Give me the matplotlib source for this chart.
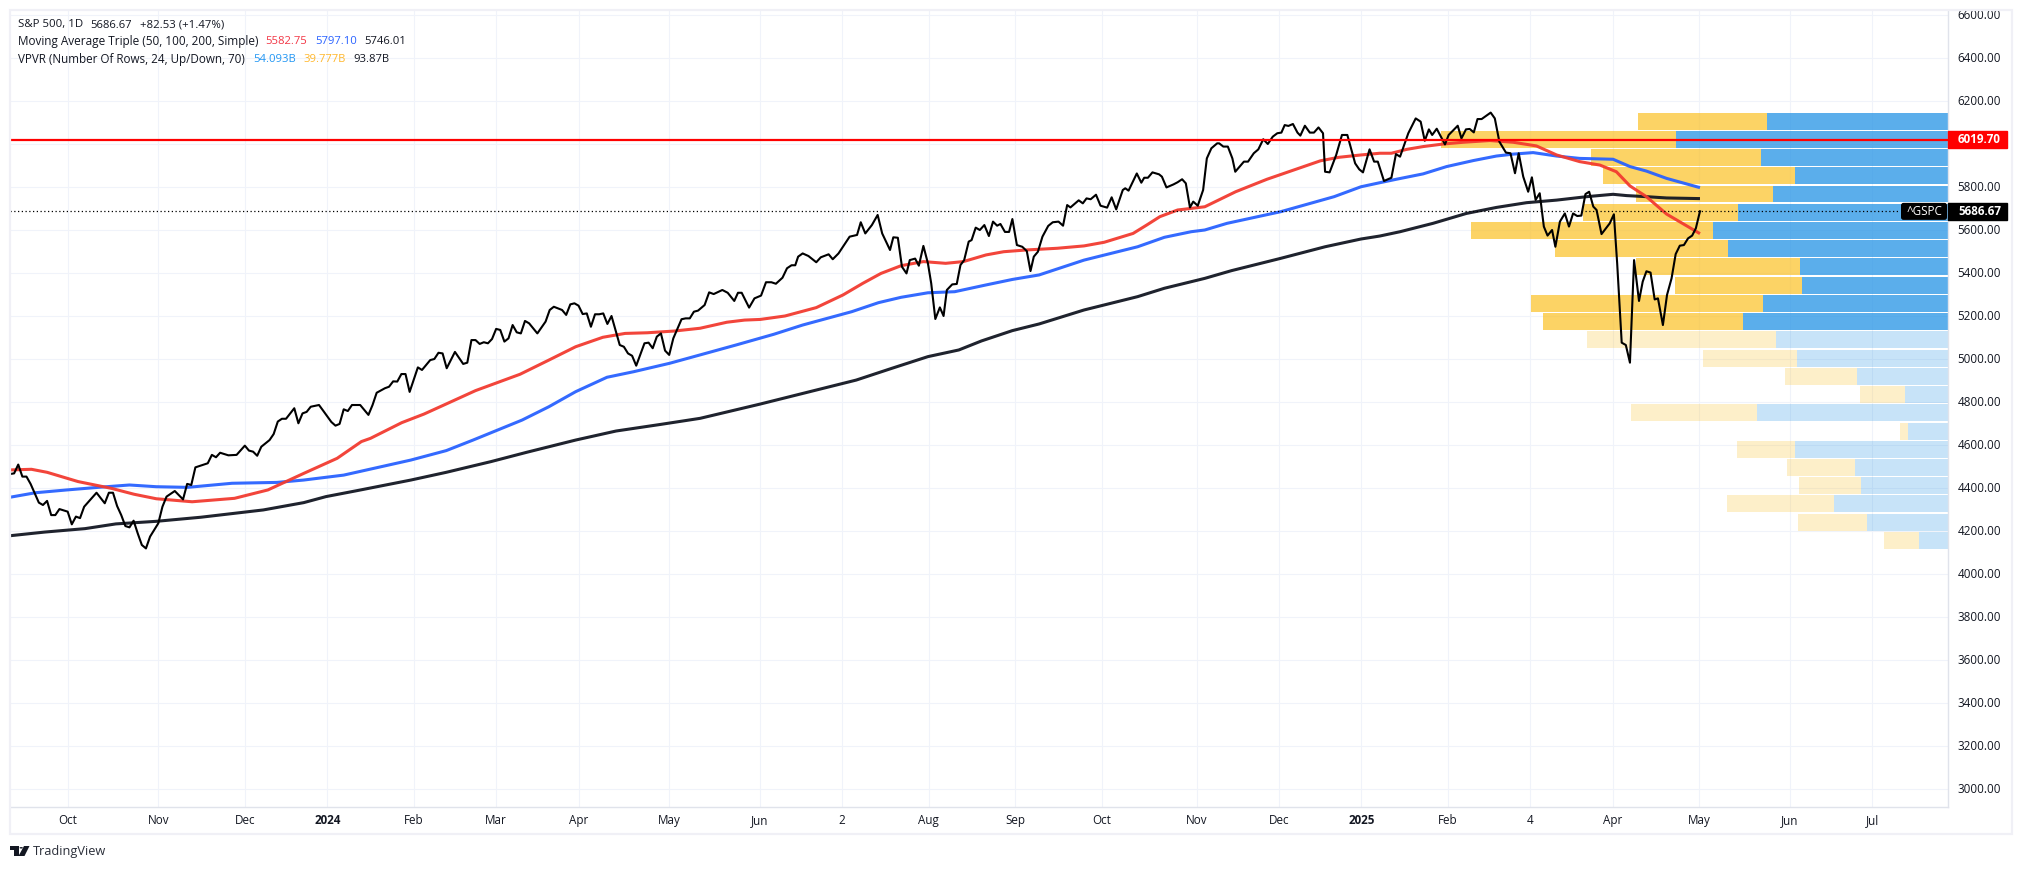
import matplotlib
matplotlib.use("Agg")
import matplotlib.pyplot as plt
from matplotlib.patches import Circle, FancyBboxPatch, Polygon, Rectangle
from matplotlib.transforms import IdentityTransform, ScaledTranslation

W, H = 2022, 869
plt.rcParams["font.family"] = ["Open Sans", "DejaVu Sans"]

# x is the bar number counted from the left edge of the chart
price_bars = [
    0, 1, 2, 3, 4, 5, 7, 8, 9, 10, 11, 12, 14, 15, 16, 17, 18, 21, 23, 24,
    25, 26, 27, 28, 29, 30, 31, 32, 33, 34, 36, 37, 38, 40, 42, 43, 44, 45, 48, 49,
    50, 51, 53, 55, 57, 58, 59, 60, 61, 63, 64, 65, 66, 67, 69, 70, 71, 72, 73, 75,
    76, 78, 79, 80, 81, 82, 83, 85, 87, 88, 89, 91, 92, 93, 94, 95, 96, 97, 99, 100,
    102, 103, 104, 105, 106, 108, 110, 111, 112, 113, 114, 115, 116, 117, 118, 119, 120, 121, 122, 123,
    124, 125, 126, 128, 130, 131, 132, 134, 135, 136, 137, 138, 139, 140, 141, 142, 143, 144, 145, 146,
    148, 149, 150, 151, 152, 154, 155, 156, 157, 158, 159, 160, 161, 163, 164, 165, 166, 167,
    168.6, 169.7, 170.8, 172.9, 174.2, 175.8, 176.7, 177.6, 179.4, 180.7, 182.3, 183.5, 184.8, 185.9, 187.5, 188.6, 189.7, 190.6, 191.3, 192.4,
    193.8, 195.7, 196.8, 198.7, 199.7, 201.1, 203.8, 205.6, 206.5, 207.6, 209.2, 210.6, 211.7, 213.6, 214.4, 215.5, 216.5, 217.6, 218.4, 219.7,
    220.6, 221.7, 222.8, 223.6, 224.6, 225.7, 226.6, 227.4, 228.7, 229.8, 230.7, 231.6, 232.7, 233.4, 234.4, 235.4, 236.5, 237.6, 238.6, 239.6,
    240.4, 241.5, 242.5, 243.3, 244.4, 245.7, 246.8, 247.7, 248.5, 249.5, 250.6, 252, 253.1, 254.5, 255.6, 256.6, 257.4, 259.4, 260.4, 261.3,
    262.3, 263.6, 264.7, 266.3, 267.4, 268.5, 270.1, 270.7, 271.5, 273.5, 274.6, 275.3, 276.2, 277.3, 278.9, 279.6, 280.7, 282.4, 283.4, 284.5,
    285.4, 286.4, 287.2, 288.3, 289.6, 290.5, 291.6, 293, 293.5, 294.5, 295.6, 296.7, 297.4, 299.5, 300.5, 301.9, 303, 304.2, 305.3, 306.5,
    307.6, 308.6, 309.4, 310.3, 311.4, 312.5, 313.2, 314.3, 315.5, 316.5, 317.6, 318.7, 319.2, 320.3, 321.9, 323.3, 324.6, 326.5, 327.5, 328.4,
    330, 331.1, 332, 333.5, 335.3, 336.4, 337.4, 339.4, 341.2, 342.4, 343.4, 344.4, 345.2, 346.3, 348.3, 349.2, 351.4, 352.3, 353.4, 354.3,
    355.3, 356.2, 357.2, 359.4, 360.4, 361.5, 363.1, 364.2, 365.3, 366.2, 367.3, 368.5, 369.4, 370.3, 371.3, 372.3, 373.2, 374.3, 375.1, 376.2,
    377.4, 378.4, 379.4, 380.4, 381.4, 382.4, 383.3, 384.3, 385.1, 386.3, 388.3, 389.3, 390.1, 391.2, 392.2, 393.2, 394.2, 395.4, 396.3, 397.2,
    398.2, 399.2, 400, 401.2, 402.2, 403.3, 404.3, 405.3, 406.3, 407.3, 408.3, 409.2, 410.2,
]
price_vals = [
    4465, 4468, 4509, 4453, 4453, 4419, 4332, 4321, 4340, 4274, 4274, 4302, 4290, 4231, 4267, 4260, 4313, 4378, 4329, 4378,
    4378, 4316, 4274, 4223, 4217, 4248, 4189, 4135, 4119, 4174, 4236, 4313, 4360, 4386, 4347, 4419, 4414, 4496, 4515, 4554,
    4543, 4564, 4552, 4554, 4597, 4574, 4569, 4550, 4592, 4623, 4651, 4709, 4722, 4722, 4771, 4701, 4747, 4754, 4778, 4786,
    4760, 4707, 4690, 4698, 4766, 4758, 4786, 4786, 4740, 4786, 4843, 4864, 4871, 4896, 4895, 4930, 4930, 4847, 4961, 4949,
    4995, 5000, 5029, 5026, 4957, 5033, 4977, 4983, 5088, 5088, 5070, 5078, 5073, 5093, 5140, 5135, 5081, 5096, 5158, 5124,
    5119, 5177, 5166, 5119, 5174, 5228, 5243, 5228, 5205, 5254, 5259, 5248, 5209, 5212, 5150, 5208, 5208, 5212, 5163, 5200,
    5065, 5057, 5026, 5015, 4969, 5073, 5076, 5050, 5104, 5119, 5039, 5019, 5096, 5185, 5189, 5189, 5220, 5225,
    5251, 5310, 5302, 5321, 5308, 5270, 5308, 5308, 5239, 5282, 5295, 5357, 5357, 5350, 5378, 5422, 5436, 5436, 5476, 5491,
    5479, 5450, 5473, 5487, 5464, 5491, 5569, 5577, 5636, 5584, 5623, 5670, 5584, 5507, 5566, 5564, 5429, 5398, 5460, 5467,
    5434, 5526, 5445, 5352, 5186, 5240, 5200, 5321, 5347, 5349, 5437, 5460, 5546, 5553, 5611, 5600, 5623, 5572, 5639, 5620,
    5628, 5591, 5591, 5651, 5530, 5522, 5502, 5409, 5476, 5499, 5569, 5619, 5636, 5639, 5620, 5716, 5705, 5738, 5724, 5747,
    5743, 5764, 5713, 5704, 5752, 5696, 5786, 5794, 5783, 5863, 5820, 5843, 5843, 5868, 5859, 5848, 5798, 5812, 5822, 5836,
    5817, 5705, 5732, 5713, 5786, 5933, 5980, 6003, 6003, 5988, 5988, 5933, 5871, 5918, 5918, 5957, 5975, 6022, 6000, 6034,
    6050, 6053, 6088, 6084, 6093, 6053, 6039, 6085, 6053, 6053, 6077, 6050, 5871, 5868, 5949, 6042, 6042, 5910, 5882, 5868,
    5975, 5918, 5918, 5828, 5843, 5953, 5941, 6050, 6119, 6104, 6015, 6068, 6042, 6071, 5998, 6042, 6085, 6026, 6068, 6070,
    6054, 6116, 6116, 6146, 6119, 6011, 5960, 5957, 5864, 5957, 5848, 5778, 5845, 5740, 5771, 5616, 5574, 5600, 5522, 5639,
    5677, 5616, 5677, 5665, 5667, 5767, 5778, 5709, 5693, 5581, 5631, 5673, 5445, 5076, 5065, 4983, 5460, 5270, 5360, 5408,
    5402, 5277, 5282, 5158, 5298, 5375, 5488, 5527, 5530, 5561, 5574, 5608, 5687,
]

ma50_bars = [
    0, 5.2, 9, 16.5, 24.7, 30.1, 35.5, 44.2, 54.5, 62.6, 71.3, 79.4, 85.3, 87.5, 95.1, 100.5, 105.9, 113, 123.8, 130.8,
    137.3, 143.9, 149.3, 154.7, 161.2, 167.5, 174, 178.3, 182.1, 188.1, 195.7, 202.2, 207, 211.4, 216.3, 221.7, 227.1, 231.4, 236.9, 241.2,
    246.6, 254.2, 260.7, 265.6, 272.6, 275.9, 279.1, 283.4, 290, 297.5, 305.1, 311.6, 318.1, 322.5, 327.9, 332.5, 335.3, 339, 343, 347.9,
    352.7, 359.2, 364.9, 370.5, 375.4, 381, 385.9, 389.9, 393.2, 397.2, 402.1, 410.2,
]
ma50_vals = [
    4484, 4487, 4473, 4430, 4398, 4371, 4350, 4336, 4352, 4391, 4468, 4538, 4616, 4631, 4704, 4744, 4791, 4853, 4929, 4995,
    5057, 5101, 5119, 5122, 5130, 5143, 5171, 5181, 5184, 5200, 5239, 5298, 5352, 5398, 5434, 5453, 5445, 5453, 5484, 5499,
    5507, 5515, 5526, 5543, 5584, 5623, 5662, 5693, 5708, 5778, 5836, 5879, 5922, 5938, 5949, 5957, 5957, 5975, 5988, 6000,
    6008, 6016, 6008, 5991, 5949, 5918, 5902, 5871, 5805, 5755, 5674, 5583,
]
ma100_bars = [
    0, 6.2, 13.8, 21.4, 29, 35.5, 43.1, 53.9, 64.8, 71.3, 81, 97.3, 105.9, 112.4, 124.3, 130.8, 137.3, 144.9, 151.4, 160.1,
    167.5, 176.2, 185.4, 192.4, 204.3, 210.8, 216.3, 222.8, 229.3, 236.8, 243.3, 249.8, 260.7, 273.7, 280.2, 286.7, 290, 295.4, 308.4, 321.4,
    327.9, 332.5, 336.5, 343, 348.7, 355.2, 360.8, 364.9, 369.7, 375.4, 381, 389.1, 393.2, 397.2, 402.1, 410.2,
]
ma100_vals = [
    4357, 4378, 4391, 4403, 4414, 4406, 4403, 4422, 4426, 4437, 4460, 4530, 4574, 4623, 4716, 4778, 4848, 4915, 4941, 4980,
    5019, 5065, 5115, 5158, 5220, 5262, 5287, 5308, 5313, 5344, 5370, 5391, 5460, 5522, 5566, 5592, 5600, 5631, 5685, 5755,
    5801, 5820, 5836, 5861, 5895, 5923, 5944, 5953, 5960, 5944, 5933, 5929, 5895, 5874, 5840, 5797,
]
ma200_bars = [
    0, 8.4, 18.2, 25.7, 35.5, 46.3, 61.5, 71.3, 76.7, 84.3, 97.3, 105.9, 116.8, 125.4, 137.3, 147.1, 158, 167.5, 182, 205.4,
    214.1, 222.8, 230.3, 235.8, 243.3, 249.8, 260.7, 273.7, 280.2, 290, 296.5, 308.4, 319.2, 327.9, 332.5, 337.4, 345.4, 353.5, 360.8, 368.1,
    375.4, 382.7, 389.1, 392.4, 397.2, 402.1, 410.2,
]
ma200_vals = [
    4178, 4195, 4211, 4233, 4245, 4264, 4298, 4332, 4360, 4388, 4437, 4473, 4523, 4566, 4623, 4665, 4696, 4724, 4790, 4902,
    4957, 5011, 5042, 5084, 5132, 5163, 5228, 5290, 5329, 5375, 5411, 5468, 5522, 5558, 5572, 5592, 5631, 5677, 5705, 5727,
    5739, 5755, 5766, 5760, 5755, 5749, 5746,
]

# volume profile rows, top to bottom; the first 12 are the 70% value area
vp_prices = [
    6106.6, 6021.8, 5937.0, 5852.2, 5767.4, 5682.6, 5597.8, 5513.0, 5428.2, 5343.4, 5258.6, 5173.8,
    5089.0, 5004.2, 4919.4, 4834.6, 4749.8, 4665.0, 4580.2, 4495.4, 4410.6, 4325.8, 4241.0, 4156.2,
]
vp_up = [
    2.48, 3.72, 2.56, 2.10, 2.40, 2.88, 3.22, 3.02, 2.03, 2.00, 2.54, 2.81,
    2.35, 2.07, 1.25, 0.59, 2.61, 0.55, 2.10, 1.28, 1.19, 1.56, 1.11, 0.40,
]
vp_down = [
    1.76, 3.23, 2.33, 2.62, 1.88, 2.12, 3.31, 2.37, 2.25, 1.74, 3.17, 2.74,
    2.59, 1.28, 0.98, 0.62, 1.73, 0.11, 0.79, 0.92, 0.85, 1.47, 0.95, 0.48,
]

tick_bars = [14, 36, 57, 77, 98, 118, 138, 160, 182, 202, 223, 244, 265, 288, 308, 328, 349, 369, 389, 410, 432, 452]
tick_labels = ["Oct", "Nov", "Dec", "2024", "Feb", "Mar", "Apr", "May", "Jun", "2", "Aug", "Sep",
               "Oct", "Nov", "Dec", "2025", "Feb", "4", "Apr", "May", "Jun", "Jul"]
price_ticks = list(range(3000, 6601, 200))

last_close = 5686.67
red_level = 6019.70
vp_n_value_area = 12
bars_per_volume = 17.72  # volume unit -> bar widths

TEXT = "#131722"
GRID = "#F0F3FA"
BORDER = "#E0E3EB"
FRAME = "#F0F0F6"

fig = plt.figure(figsize=(W / 100, H / 100), dpi=100, facecolor="white")
ax = fig.add_axes([10 / W, 1 - 807 / H, 1938 / W, 796.5 / H])
ax.set_xlim(0, 470.4)
ax.set_ylim(2916.3, 6620.9)

# outer frame of the screenshot
fig.add_artist(Rectangle((10 / W, 1 - 833.5 / H), 2001.5 / W, 823.5 / H, transform=fig.transFigure,
                         fill=False, edgecolor=FRAME, linewidth=1.6))

ax.set_axisbelow(True)
ax.grid(True, color=GRID, linewidth=0.8)
for side in ["top", "left"]:
    ax.spines[side].set_visible(False)
for side in ["right", "bottom"]:
    ax.spines[side].set_color(BORDER)
    ax.spines[side].set_linewidth(1.0)

ax.yaxis.tick_right()
ax.set_yticks(price_ticks)
# 6000.00 sits under the red tag in the original, so it is left out
ax.set_yticklabels(["" if t == 6000 else f"{t:.2f}" for t in price_ticks])
ax.set_xticks(tick_bars)
ax.set_xticklabels(tick_labels)
ax.tick_params(axis="y", length=0, pad=7, labelsize=8.4, labelcolor=TEXT)
ax.tick_params(axis="x", length=0, pad=5, labelsize=8.4, labelcolor=TEXT)
for lab in ax.get_xticklabels():
    if lab.get_text() in ("2024", "2025"):
        lab.set_fontweight("bold")
# price labels sit a pixel above their gridlines
up_1px = ScaledTranslation(0, 1 / 100, fig.dpi_scale_trans)
for lab in ax.get_yticklabels():
    lab.set_transform(lab.get_transform() + up_1px)

# volume profile hangs off the right edge
x_right = ax.get_xlim()[1]
for i, (p, up, down) in enumerate(zip(vp_prices, vp_up, vp_down)):
    strong = i < vp_n_value_area
    up_w = up * bars_per_volume
    down_w = down * bars_per_volume
    ax.barh(p, up_w, left=x_right - up_w, height=79, zorder=1,
            color="#2A96E6", alpha=0.77 if strong else 0.26, linewidth=0)
    ax.barh(p, down_w, left=x_right - up_w - down_w, height=79, zorder=1,
            color="#FBC22A", alpha=0.72 if strong else 0.25, linewidth=0)

ax.plot(ma200_bars, ma200_vals, color="#131722", linewidth=2.2, alpha=0.95, zorder=3, solid_capstyle="butt")
ax.plot(ma100_bars, ma100_vals, color="#2962FF", linewidth=2.2, alpha=0.95, zorder=3, solid_capstyle="butt")
ax.plot(ma50_bars, ma50_vals, color="#F23B30", linewidth=2.2, alpha=0.95, zorder=3, solid_capstyle="butt")
ax.plot(price_bars, price_vals, color="black", linewidth=1.5, zorder=4)

ax.axhline(red_level, color="#FF0000", linewidth=1.6, zorder=5)
ax.plot([0, 458.8], [last_close, last_close], color="black", linewidth=0.9, linestyle=(0, (1, 2)), zorder=5)

# price tags on the axis
tag_tf = ax.get_yaxis_transform()
tag_h = 79
ax.add_patch(Rectangle((1, red_level - tag_h / 2), 0.0305, tag_h, transform=tag_tf, clip_on=False,
                       color="#FF0000", zorder=6))
ax.text(1.0052, red_level, "6019.70", transform=tag_tf, color="white", fontsize=8.4, fontweight="bold",
        va="center", ha="left", zorder=7)
ax.add_patch(Rectangle((1, last_close - tag_h / 2), 0.0305, tag_h, transform=tag_tf, clip_on=False,
                       color="black", zorder=6))
ax.text(1.0052, last_close, "5686.67", transform=tag_tf, color="white", fontsize=8.4, fontweight="bold",
        va="center", ha="left", zorder=7)

# ^GSPC tag has rounded corners, so it is drawn in pixels at the price's height
tag_y = ax.transData.transform((0, last_close))[1]
fig.add_artist(FancyBboxPatch((ax.bbox.x1 - 47, tag_y - 8.5), 46, 17, boxstyle="round,pad=0,rounding_size=2.5",
                              transform=IdentityTransform(), facecolor="black", edgecolor="none", zorder=6))
fig.text((ax.bbox.x1 - 24) / W, tag_y / H, "^GSPC", color="white", fontsize=8.4, va="center", ha="center", zorder=7)

# legend rows at the top left
legend_rows = [
    (25, 18, "S&P 500, 1D", TEXT, 8.2), (25, 90.5, "5686.67", TEXT, 8.1), (25, 140.5, "+82.53 (+1.47%)", TEXT, 8.2),
    (42, 18, "Moving Average Triple (50, 100, 200, Simple)", TEXT, 8.45), (42, 265, "5582.75", "#F23645", 8.1),
    (42, 315, "5797.10", "#2962FF", 8.1), (42, 364, "5746.01", TEXT, 8.1),
    (59, 18, "VPVR (Number Of Rows, 24, Up/Down, 70)", TEXT, 8.4), (59, 253.5, "54.093B", "#2196F3", 8.1),
    (59, 303.5, "39.777B", "#FFB72B", 8.1), (59, 353, "93.87B", TEXT, 8.1),
]
for y, x, s, c, size in legend_rows:
    fig.text(x / W, 1 - y / H, s, color=c, fontsize=size, va="center", ha="left")


# TradingView mark under the chart
def logo_pts(pts):
    return [(x / W, 1 - y / H) for x, y in pts]


logo = [
    logo_pts([(10, 846), (18.5, 846), (18.5, 856), (13.5, 856), (13.5, 849.5), (10, 849.5)]),
    logo_pts([(24, 846), (29.5, 846), (24.5, 856), (18.5, 856)]),
]
for pts in logo:
    fig.add_artist(Polygon(pts, closed=True, transform=fig.transFigure, color=TEXT, linewidth=0))
fig.add_artist(Circle((21.2 / W, 1 - 847.8 / H), 1.7 / W, transform=fig.transFigure, color=TEXT, linewidth=0))
fig.text(33 / W, 1 - 851.5 / H, "TradingView", color="#2A2E39", fontsize=9.2, va="center", ha="left")

fig.savefig("out.png", dpi=100, facecolor="white")
